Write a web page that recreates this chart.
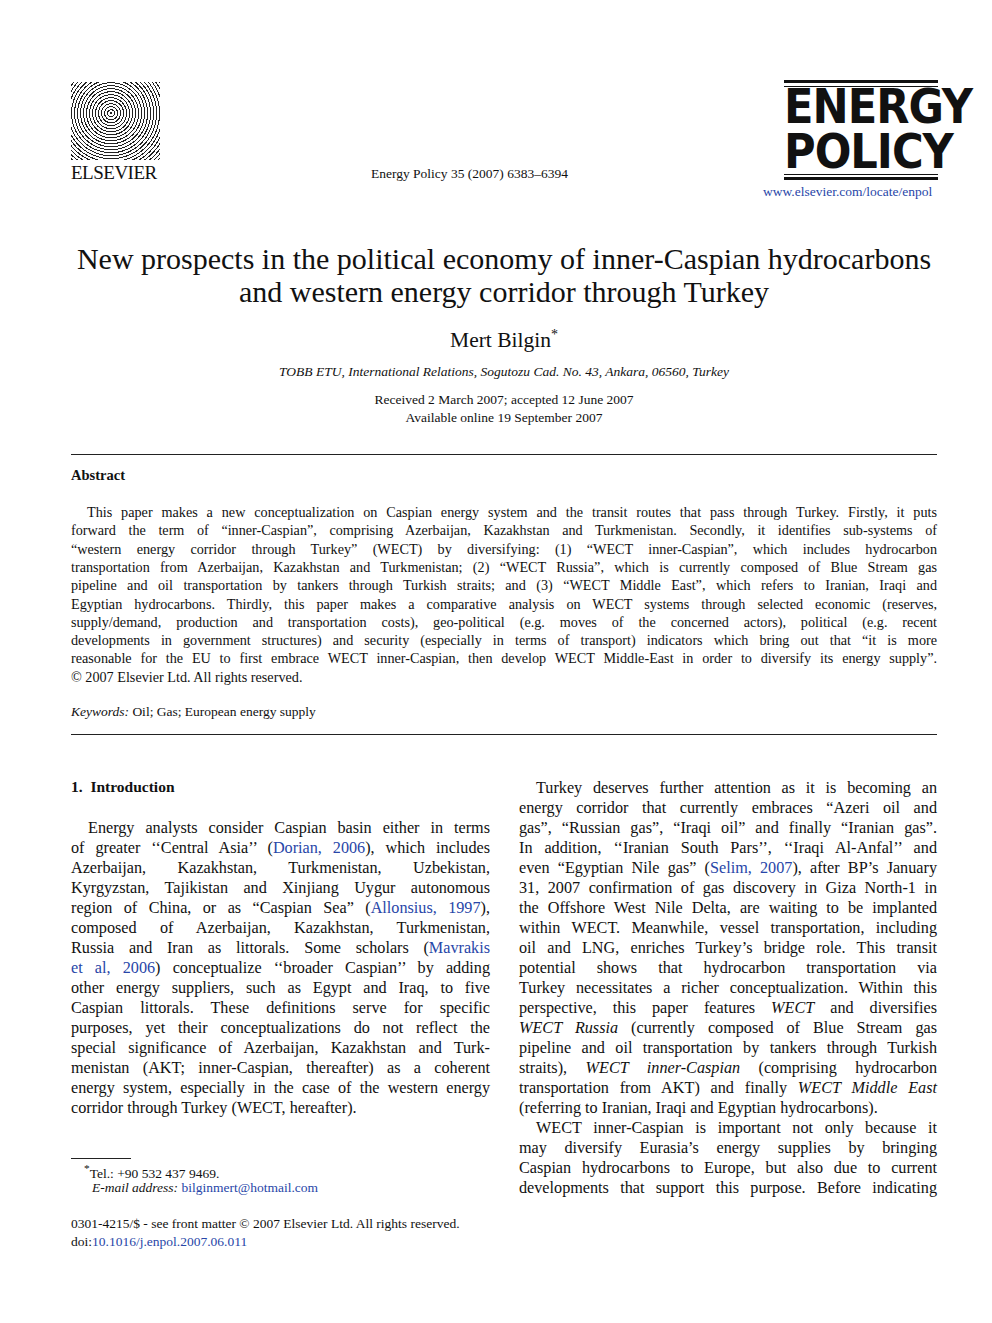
<!DOCTYPE html>
<html><head><meta charset="utf-8">
<script src="https://cdn.jsdelivr.net/npm/chart.js@4"></script>
<style>
body{margin:0;background:#fff;font-family:"Liberation Serif","DejaVu Serif",serif;color:#111;}
.a{position:absolute;white-space:nowrap;}
.j{position:absolute;text-align:justify;text-align-last:justify;white-space:nowrap;}
.l{color:#2846a8;}
.hr{position:absolute;left:71px;width:866px;height:1px;background:#222;}
</style></head><body>
<div class="a" style="left:71px;top:82px;width:89px;height:78px;background:repeating-radial-gradient(circle at 45% 40%,#222 0 1px,#fff 1px 3px);"></div>
<div class="a" style="left:71px;top:162px;font-size:19px;letter-spacing:-0.5px;">ELSEVIER</div>
<div class="a" style="left:371px;top:166px;font-size:13.5px;">Energy Policy 35 (2007) 6383–6394</div>
<div class="a" style="left:784px;top:80px;width:154px;height:3px;background:#111;"></div>
<div class="a" style="left:784px;top:86px;width:154px;height:1px;background:#111;"></div>
<div class="a" style="left:784px;top:84px;width:154px;text-align:center;font-family:'Liberation Sans Narrow','DejaVu Sans Condensed';font-weight:bold;font-size:48px;line-height:45px;letter-spacing:-1px;">ENERGY<br>POLICY</div>
<div class="a" style="left:784px;top:174px;width:154px;height:1px;background:#111;"></div>
<div class="a" style="left:784px;top:177px;width:154px;height:3px;background:#111;"></div>
<div class="a l" style="left:763px;top:184px;font-size:13.5px;">www.elsevier.com/locate/enpol</div>
<div class="a" style="left:0;width:1008px;top:242px;text-align:center;font-size:30px;line-height:33px;">New prospects in the political economy of inner-Caspian hydrocarbons<br>and western energy corridor through Turkey</div>
<div class="a" style="left:0;width:1008px;top:327px;text-align:center;font-size:21.5px;">Mert Bilgin<sup style="font-size:14px">*</sup></div>
<div class="a" style="left:0;width:1008px;top:364px;text-align:center;font-size:13.5px;font-style:italic;">TOBB ETU, International Relations, Sogutozu Cad. No. 43, Ankara, 06560, Turkey</div>
<div class="a" style="left:0;width:1008px;top:391px;text-align:center;font-size:13.5px;line-height:18px;">Received 2 March 2007; accepted 12 June 2007<br>Available online 19 September 2007</div>
<div class="hr" style="top:454px"></div>
<div class="a" style="left:71px;top:467px;font-size:14.5px;font-weight:bold;">Abstract</div>
<div id="abs"></div>
<div class="a" style="left:71px;top:704px;font-size:13.5px;"><i>Keywords:</i> Oil; Gas; European energy supply</div>
<div class="hr" style="top:734px"></div>
<div class="a" style="left:71px;top:778px;font-size:15.5px;font-weight:bold;">1.&nbsp; Introduction</div>
<div id="cols"></div>
<div class="a" style="left:71px;top:1158px;width:60px;height:1px;background:#222;"></div>
<div class="a" style="left:84px;top:1162px;font-size:13.5px;"><sup>*</sup>Tel.: +90 532 437 9469.</div>
<div class="a" style="left:92px;top:1180px;font-size:13.5px;"><i>E-mail address:</i> <span class="l">bilginmert@hotmail.com</span></div>
<div class="a" style="left:71px;top:1216px;font-size:13.5px;">0301-4215/$ - see front matter © 2007 Elsevier Ltd. All rights reserved.</div>
<div class="a" style="left:71px;top:1234px;font-size:13.5px;">doi:<span class="l">10.1016/j.enpol.2007.06.011</span></div>
<script>
const abstractLines=[
"This paper makes a new conceptualization on Caspian energy system and the transit routes that pass through Turkey. Firstly, it puts",
"forward the term of “inner-Caspian”, comprising Azerbaijan, Kazakhstan and Turkmenistan. Secondly, it identifies sub-systems of",
"“western energy corridor through Turkey” (WECT) by diversifying: (1) “WECT inner-Caspian”, which includes hydrocarbon",
"transportation from Azerbaijan, Kazakhstan and Turkmenistan; (2) “WECT Russia”, which is currently composed of Blue Stream gas",
"pipeline and oil transportation by tankers through Turkish straits; and (3) “WECT Middle East”, which refers to Iranian, Iraqi and",
"Egyptian hydrocarbons. Thirdly, this paper makes a comparative analysis on WECT systems through selected economic (reserves,",
"supply/demand, production and transportation costs), geo-political (e.g. moves of the concerned actors), political (e.g. recent",
"developments in government structures) and security (especially in terms of transport) indicators which bring out that “it is more",
"reasonable for the EU to first embrace WECT inner-Caspian, then develop WECT Middle-East in order to diversify its energy supply”.",
"© 2007 Elsevier Ltd. All rights reserved."];
const leftLines=[
"Energy analysts consider Caspian basin either in terms",
"of greater ‘‘Central Asia’’ (<span class=l>Dorian, 2006</span>), which includes",
"Azerbaijan, Kazakhstan, Turkmenistan, Uzbekistan,",
"Kyrgyzstan, Tajikistan and Xinjiang Uygur autonomous",
"region of China, or as “Caspian Sea” (<span class=l>Allonsius, 1997</span>),",
"composed of Azerbaijan, Kazakhstan, Turkmenistan,",
"Russia and Iran as littorals. Some scholars (<span class=l>Mavrakis</span>",
"<span class=l>et al, 2006</span>) conceptualize ‘‘broader Caspian’’ by adding",
"other energy suppliers, such as Egypt and Iraq, to five",
"Caspian littorals. These definitions serve for specific",
"purposes, yet their conceptualizations do not reflect the",
"special significance of Azerbaijan, Kazakhstan and Turk-",
"menistan (AKT; inner-Caspian, thereafter) as a coherent",
"energy system, especially in the case of the western energy",
"corridor through Turkey (WECT, hereafter)."];
const rightLines=[
"Turkey deserves further attention as it is becoming an",
"energy corridor that currently embraces “Azeri oil and",
"gas”, “Russian gas”, “Iraqi oil” and finally “Iranian gas”.",
"In addition, ‘‘Iranian South Pars’’, ‘‘Iraqi Al-Anfal’’ and",
"even “Egyptian Nile gas” (<span class=l>Selim, 2007</span>), after BP’s January",
"31, 2007 confirmation of gas discovery in Giza North-1 in",
"the Offshore West Nile Delta, are waiting to be implanted",
"within WECT. Meanwhile, vessel transportation, including",
"oil and LNG, enriches Turkey’s bridge role. This transit",
"potential shows that hydrocarbon transportation via",
"Turkey necessitates a richer conceptualization. Within this",
"perspective, this paper features <i>WECT</i> and diversifies",
"<i>WECT Russia</i> (currently composed of Blue Stream gas",
"pipeline and oil transportation by tankers through Turkish",
"straits), <i>WECT inner-Caspian</i> (comprising hydrocarbon",
"transportation from AKT) and finally <i>WECT Middle East</i>",
"(referring to Iranian, Iraqi and Egyptian hydrocarbons).",
"WECT inner-Caspian is important not only because it",
"may diversify Eurasia’s energy supplies by bringing",
"Caspian hydrocarbons to Europe, but also due to current",
"developments that support this purpose. Before indicating"];
function put(host,lines,x,w,y0,lh,fs,indent,lastSet,indentSet){
  let h='';
  lines.forEach((t,i)=>{
    const ind=indentSet.includes(i)?indent:0;
    const last=lastSet.includes(i);
    h+=`<div class="${last?'a':'j'}" style="left:${x+ind}px;width:${w-ind}px;top:${y0+i*lh}px;font-size:${fs}px;line-height:${lh}px">${t}</div>`;
  });
  document.getElementById(host).innerHTML+=h;
}
put('abs',abstractLines,71,866,503,18.3,14.2,16,[9],[0]);
put('cols',leftLines,71,419,818,20,16.2,17,[14],[0]);
put('cols',rightLines,519,418,778,20,16.2,17,[16],[0,17]);
</script>
</body></html>
